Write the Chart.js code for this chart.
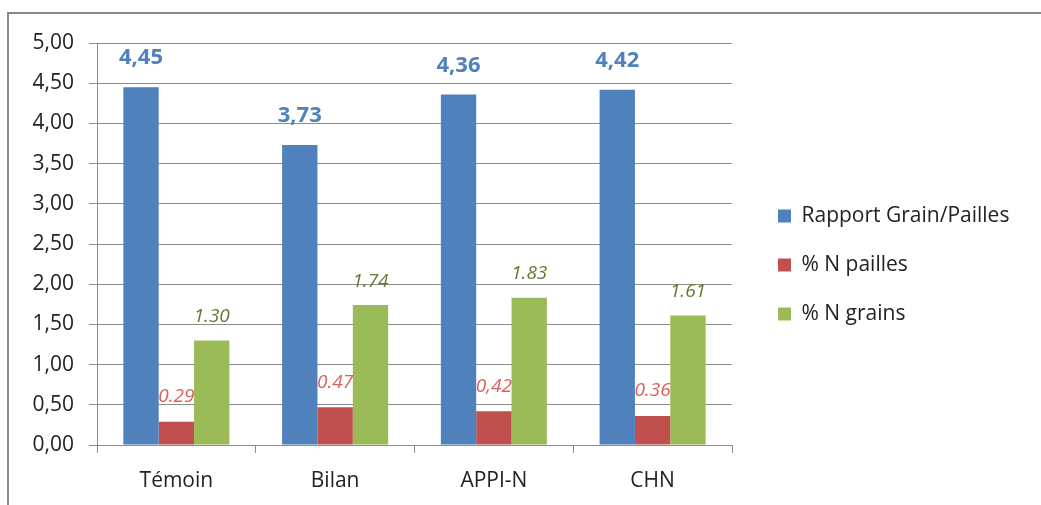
<!DOCTYPE html>
<html>
<head>
<meta charset="utf-8">
<script src="https://cdn.jsdelivr.net/npm/chart.js@4"></script>
<style>
  html, body { margin: 0; padding: 0; background: #fff; }
  #frame {
    position: absolute; left: 7px; top: 12px;
    width: 1034px; height: 493px;
    border-top: 2px solid #8a8a8a; border-left: 2px solid #8a8a8a;
  }
  #chart { display: block; }
</style>
</head>
<body>
<div id="frame"><canvas id="chart" width="1032" height="491"></canvas></div>

<script>
  // categories and series
  const categories = ['Témoin', 'Bilan', 'APPI-N', 'CHN'];
  const rapportGrainPailles = [4.45, 3.73, 4.36, 4.42];
  const nPailles = [0.29, 0.47, 0.42, 0.36];
  const nGrains = [1.30, 1.74, 1.83, 1.61];

  // label texts as printed on the chart (mixed decimal separators)
  const rapportLabels = ['4,45', '3,73', '4,36', '4,42'];
  const pailleLabels = ['0.29', '0.47', '0,42', '0.36'];
  const grainLabels = ['1.30', '1.74', '1.83', '1.61'];

  const FONT = '"Open Sans", "DejaVu Sans", sans-serif';

  // draws value labels above the bars
  const valueLabels = {
    id: 'valueLabels',
    afterDatasetsDraw(chart) {
      const ctx = chart.ctx;
      chart.data.datasets.forEach((ds, i) => {
        const meta = chart.getDatasetMeta(i);
        meta.data.forEach((bar, j) => {
          ctx.save();
          ctx.font = ds.labelFont;
          ctx.fillStyle = ds.labelColor;
          ctx.textAlign = 'center';
          ctx.textBaseline = 'middle';
          ctx.fillText(ds.labelTexts[j], bar.x, bar.y - ds.labelOffset);
          ctx.restore();
        });
      });
    }
  };

  // fixed legend width so the plot ends where it does in the original,
  // then move the legend a little right and up
  const legendShift = {
    id: 'legendShift',
    afterInit(chart) {
      const lg = chart.legend;
      const fit = lg.fit.bind(lg);
      lg.fit = function () { fit(); this.width = 309; };
    },
    afterLayout(chart) {
      const lg = chart.legend;
      const dx = chart.chartArea.right + 18 - lg.left;
      lg.left += dx;
      lg.right += dx;
      lg.top -= 9;
      lg.bottom -= 9;
    }
  };

  const ctx = document.getElementById('chart').getContext('2d');
  new Chart(ctx, {
    type: 'bar',
    data: {
      labels: categories,
      datasets: [{
        label: 'Rapport Grain/Pailles',
        data: rapportGrainPailles,
        backgroundColor: '#4F81BD',
        labelTexts: rapportLabels,
        labelColor: '#4F81BD',
        labelFont: 'bold 22px ' + FONT,
        labelOffset: 29
      }, {
        label: '% N pailles',
        data: nPailles,
        backgroundColor: '#C0504D',
        labelTexts: pailleLabels,
        labelColor: '#D9605C',
        labelFont: 'italic 19px ' + FONT,
        labelOffset: 25
      }, {
        label: '% N grains',
        data: nGrains,
        backgroundColor: '#9BBB59',
        labelTexts: grainLabels,
        labelColor: '#5F7A2E',
        labelFont: 'italic 19px ' + FONT,
        labelOffset: 24
      }]
    },
    options: {
      responsive: false,
      animation: false,
      categoryPercentage: 0.668,
      barPercentage: 1,
      layout: { padding: { top: 29, right: 0, left: 0, bottom: 0 } },
      scales: {
        y: {
          min: 0,
          max: 5,
          ticks: {
            stepSize: 0.5,
            color: '#222',
            padding: 15,
            font: { family: FONT, size: 21 },
            callback: v => v.toFixed(2).replace('.', ',')
          },
          grid: { color: '#8c8c8c', tickLength: 8 },
          border: { color: '#8c8c8c' },
          afterFit: s => { s.width = 88; }
        },
        x: {
          offset: true,
          ticks: {
            color: '#222',
            padding: 15,
            font: { family: FONT, size: 21 }
          },
          grid: { offset: true, drawOnChartArea: false, color: '#8c8c8c', tickLength: 8 },
          border: { color: '#8c8c8c' },
          afterFit: s => { s.height = 60; }
        }
      },
      plugins: {
        legend: {
          position: 'right',
          labels: {
            boxWidth: 13,
            boxHeight: 13,
            padding: 28,
            color: '#222',
            font: { family: FONT, size: 21 }
          }
        },
        tooltip: { enabled: false }
      }
    },
    plugins: [valueLabels, legendShift]
  });
</script>
</body>
</html>
